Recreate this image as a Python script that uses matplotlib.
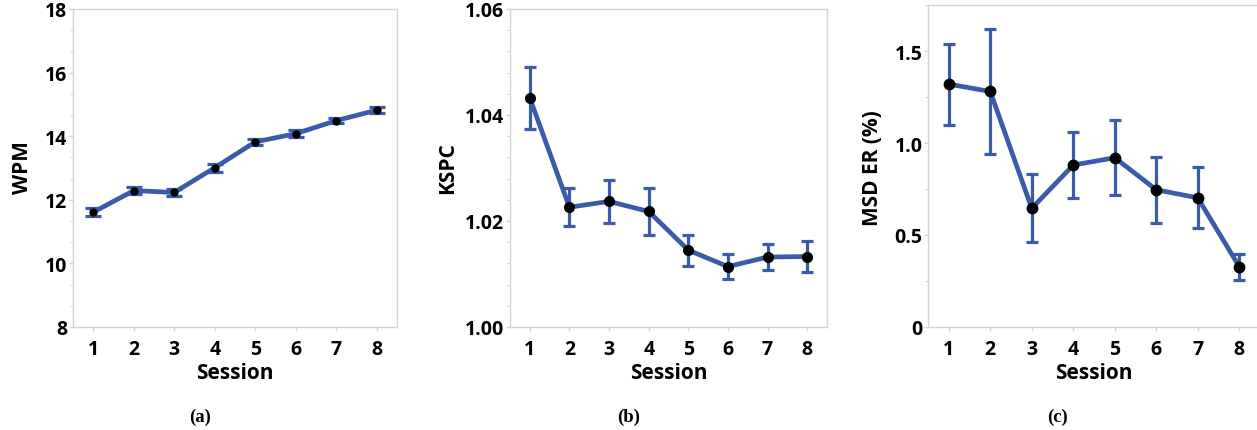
import numpy as np
import matplotlib
matplotlib.use('Agg')
import matplotlib.pyplot as plt
from matplotlib.ticker import MultipleLocator

plt.rcParams['font.family'] = ['Open Sans', 'DejaVu Sans']

sessions = [1, 2, 3, 4, 5, 6, 7, 8]

wpm = [11.61, 12.29, 12.23, 13.01, 13.82, 14.08, 14.49, 14.82]
wpm_err = [0.12, 0.10, 0.10, 0.13, 0.10, 0.10, 0.09, 0.10]

kspc = [1.0432, 1.0226, 1.0237, 1.0218, 1.0145, 1.0114, 1.0132, 1.0133]
kspc_err = [0.0058, 0.0036, 0.0041, 0.0044, 0.0029, 0.0024, 0.0025, 0.0029]

msd = [1.32, 1.28, 0.645, 0.88, 0.92, 0.746, 0.702, 0.328]
msd_err = [0.22, 0.34, 0.185, 0.18, 0.205, 0.18, 0.165, 0.07]

BLUE = '#3a5ba9'
GRID = '#d4d4d4'
W, H = 1257, 431

panels = [
    dict(y=wpm, err=wpm_err, ylabel='WPM', ylim=(8, 18), major=2, minor=2 / 3,
         ticks=[8, 10, 12, 14, 16, 18], labels=['8', '10', '12', '14', '16', '18'],
         ms=5, cap_sz=5.5, box=(73, 10, 397, 328), cap='(a)', capx=200, ylx=22),
    dict(y=kspc, err=kspc_err, ylabel='KSPC', ylim=(1.0, 1.06), major=0.02, minor=0.004,
         ticks=[1.00, 1.02, 1.04, 1.06], labels=['1.00', '1.02', '1.04', '1.06'],
         ms=7, cap_sz=4.5, box=(510, 10, 827, 328), cap='(b)', capx=629, ylx=448),
    dict(y=msd, err=msd_err, ylabel='MSD ER (%)', ylim=(0, 1.75), major=0.5, minor=0.25,
         ticks=[0, 0.5, 1.0, 1.5], labels=['0', '0.5', '1.0', '1.5'],
         ms=7.5, cap_sz=4.5, box=(928, 6, 1260, 328), cap='(c)', capx=1058, ylx=873),
]

fig = plt.figure(figsize=(W / 100, H / 100), dpi=100)

for p in panels:
    x0, y0, x1, y1 = p['box']
    ax = fig.add_axes([x0 / W, 1 - y1 / H, (x1 - x0) / W, (y1 - y0) / H])
    ax.errorbar(sessions, p['y'], yerr=p['err'], color=BLUE, lw=3.4,
                elinewidth=2.3, capsize=p['cap_sz'], capthick=2.3, zorder=2)
    ax.plot(sessions, p['y'], 'o', color='black', ms=p['ms'], zorder=3)
    ax.set_xlim(0.5, 8.5)
    ax.set_ylim(*p['ylim'])
    ax.set_xticks(sessions)
    ax.set_yticks(p['ticks'])
    ax.set_yticklabels(p['labels'])
    ax.yaxis.set_minor_locator(MultipleLocator(p['minor']))
    for s in ax.spines.values():
        s.set_color(GRID)
        s.set_linewidth(1.0)
    ax.tick_params(axis='both', which='major', length=3, width=1, color=GRID,
                   labelsize=14)
    ax.tick_params(axis='y', which='minor', length=2, width=0.8, color=GRID)
    ax.tick_params(axis='x', pad=6)
    ax.tick_params(axis='y', pad=1)
    for lab in ax.get_xticklabels() + ax.get_yticklabels():
        lab.set_fontweight('bold')
    ax.set_xlabel('Session', fontsize=15, fontweight='bold', labelpad=2)
    fig.text(p['ylx'] / W, 1 - 168 / H, p['ylabel'], rotation=90, fontsize=15,
             fontweight='bold', ha='center', va='center')
    fig.text(p['capx'] / W, 1 - 417 / H, p['cap'], fontsize=13.5, fontweight='bold',
             ha='center', va='center', family=['Liberation Serif', 'DejaVu Serif'])

fig.savefig('out.png', dpi=100)
